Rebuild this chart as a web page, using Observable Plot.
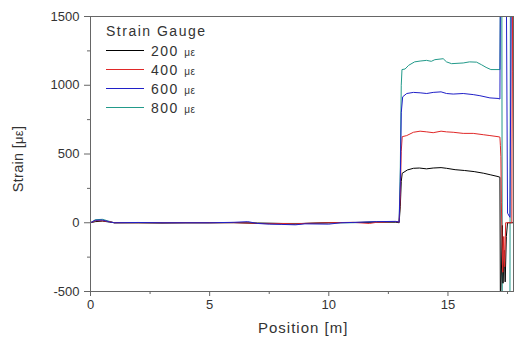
<!DOCTYPE html>
<html><head><meta charset="utf-8">
<script src="https://cdn.jsdelivr.net/npm/d3@7"></script>
<script src="https://cdn.jsdelivr.net/npm/@observablehq/plot@0.6"></script>
<style>
body{margin:0;background:#fff}
#c{position:relative;width:514px;height:339px;font-family:"Liberation Sans",Arial,sans-serif;color:#333}
#c > svg{position:absolute;left:0;top:0}
.lab{position:absolute;white-space:nowrap}
.mu{font-size:10px;letter-spacing:0.5px}
</style>
</head><body><div id="c"></div>
<script>
const seriesNames = ["200", "400", "600", "800"];
const seriesColors = ["#000000", "#e02828", "#2020c8", "#229a8a"];
const xMajor = [0, 5, 10, 15];
const xMinor = [2.5, 7.5, 12.5, 17.5];
const yMajor = [-500, 0, 500, 1000, 1500];
const yMinor = [-250, 250, 750, 1250];

const s200 = [[0,0],[0.2,8],[0.5,12],[0.8,5],[1,0],[2,0],[3,-2],[4,0],[5,0],[6,2],[7,-5],[8,-8],[8.6,-10],[9,-5],[10,0],[11,2],[12,5],[12.8,5],[12.95,0],[13.0,120],[13.04,300],[13.08,360],[13.3,384],[13.55,396],[13.8,398],[14.1,392],[14.38,398],[14.71,401],[14.94,396],[15.3,386],[15.7,380],[16.1,372],[16.5,360],[16.8,348],[17.1,336],[17.18,331],[17.2,-600],[17.25,-300],[17.28,-20],[17.31,-440],[17.36,-200],[17.4,-430],[17.45,-100],[17.5,0],[17.75,0]];
const s400 = [[0,0],[0.2,15],[0.5,14],[0.8,8],[1,0],[2,0],[3,0],[4,0],[5,0],[6,0],[7,-3],[8,-5],[8.6,-8],[9,-4],[10,0],[11,3],[11.7,-5],[12,3],[12.8,8],[12.95,5],[13.0,200],[13.04,520],[13.08,626],[13.27,634],[13.55,658],[13.83,666],[14.11,661],[14.38,655],[14.71,666],[14.94,661],[15.22,658],[15.64,650],[16.06,650],[16.5,640],[16.76,634],[17.1,626],[17.18,623],[17.2,560],[17.22,480],[17.24,145],[17.3,-360],[17.34,-100],[17.38,-320],[17.42,0],[17.68,0],[17.7,1600],[17.72,1100],[17.75,550]];
const s600 = [[0,0],[0.2,18],[0.5,20],[0.8,6],[1,0],[2,2],[3,0],[4,0],[5,0],[6,3],[6.6,8],[7,-5],[7.5,-10],[8,-12],[8.6,-15],[9,-8],[10,-10],[10.5,0],[11,2],[12,8],[12.8,10],[12.95,5],[13.0,300],[13.04,800],[13.1,916],[13.27,940],[13.55,948],[13.83,945],[14.11,940],[14.38,948],[14.71,952],[14.94,940],[15.22,936],[15.64,940],[16.06,932],[16.34,924],[16.76,908],[17.1,904],[17.18,900],[17.2,1700],[17.45,1700],[17.5,70],[17.6,40],[17.66,1700],[17.75,1700]];
const s800 = [[0,0],[0.2,22],[0.5,25],[0.8,10],[1,0],[2,0],[3,0],[4,0],[5,0],[6,0],[7,0],[8,-5],[9,-5],[10,0],[11,0],[12,5],[12.8,5],[12.95,5],[13.0,400],[13.04,1000],[13.07,1114],[13.2,1118],[13.35,1145],[13.6,1170],[13.83,1176],[14.1,1181],[14.3,1174],[14.45,1186],[14.8,1193],[14.94,1170],[15.15,1157],[15.64,1162],[15.9,1170],[16.2,1168],[16.4,1150],[16.6,1130],[16.8,1114],[17.1,1114],[17.18,1114],[17.2,1700],[17.26,1700],[17.28,-700],[17.6,-700],[17.62,1700],[17.75,1700]];

const series = [s200, s400, s600, s800];
const rows = [];
series.forEach((s, i) => s.forEach(([x, y]) => rows.push({pos: x, strain: y, gauge: seriesNames[i]})));

const drawOrder = [3, 0, 1, 2];
const axisColor = "#666";

const legendRows = seriesNames.map((n, i) => ({gauge: n, rank: i}));

const plot = Plot.plot({
  width: 514, height: 339,
  marginLeft: 90, marginRight: 1, marginTop: 16, marginBottom: 48,
  style: {fontFamily: "Liberation Sans, Arial, sans-serif", fontSize: "13px", color: "#333", background: "#fff"},
  x: {domain: [0, 17.75]},
  y: {domain: [-500, 1500]},
  marks: [
    ...drawOrder.map(i => Plot.line(rows.filter(d => d.gauge === seriesNames[i]), {x: "pos", y: "strain", stroke: seriesColors[i], strokeWidth: 1, clip: true})),
    Plot.frame({stroke: axisColor, strokeWidth: 1}),
    Plot.axisX({ticks: xMajor, tickSize: 5, tickPadding: 3, tickFormat: d => String(d), stroke: axisColor, fill: "#333", fontSize: 13, label: null}),
    Plot.axisX({ticks: xMinor, tickSize: 3, tickFormat: () => "", stroke: axisColor, label: null}),
    Plot.axisY({ticks: yMajor, tickSize: 6, tickPadding: 5, tickFormat: d => String(d), stroke: axisColor, fill: "#333", fontSize: 13, label: null}),
    Plot.axisY({ticks: yMinor, tickSize: 3, tickFormat: () => "", stroke: axisColor, label: null})
  ]
});
const c = document.getElementById("c");
c.appendChild(plot);

function addLabel(html, style) {
  const d = document.createElement("div");
  d.className = "lab";
  d.innerHTML = html;
  Object.assign(d.style, style);
  c.appendChild(d);
  return d;
}
addLabel("Position [m]", {left: "258px", top: "319px", fontSize: "15px", letterSpacing: "1px"});
addLabel("Strain [<span style='font-size:13px'>με</span>]", {left: "18px", top: "159px", fontSize: "14.5px", letterSpacing: "0.3px", transform: "translate(-50%,-50%) rotate(-90deg)"});
addLabel("Strain Gauge", {left: "106px", top: "23px", fontSize: "14px", letterSpacing: "1.5px"});

const leg = d3.select(c).append("svg").attr("width", 514).attr("height", 339).style("position", "absolute").style("left", "0").style("top", "0").style("pointer-events", "none");
legendRows.forEach(r => {
  const top = 50.5 + r.rank * 19;
  leg.append("line").attr("x1", 106).attr("x2", 144).attr("y1", top).attr("y2", top).attr("stroke", seriesColors[r.rank]).attr("stroke-width", 1.2);
  addLabel(r.gauge + " <span class='mu'>με</span>", {left: "151px", top: (top - 9) + "px", fontSize: "14px", letterSpacing: "1.5px", lineHeight: "18px"});
});
</script>
</body></html>
